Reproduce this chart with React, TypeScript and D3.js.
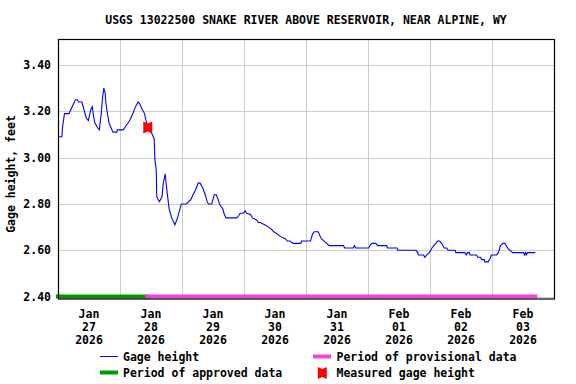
import React from "react";
import * as d3 from "d3";

const TITLE = "USGS 13022500 SNAKE RIVER ABOVE RESERVOIR, NEAR ALPINE, WY";
const Y_LABEL = "Gage height, feet";
const Y_TICKS = [2.4, 2.6, 2.8, 3.0, 3.2, 3.4];
const X_TICK_DAYS = ["2026-01-27", "2026-01-28", "2026-01-29", "2026-01-30", "2026-01-31", "2026-02-01", "2026-02-02", "2026-02-03"];
const X_TICK_LINES = [
  ["Jan", "27", "2026"], ["Jan", "28", "2026"], ["Jan", "29", "2026"], ["Jan", "30", "2026"],
  ["Jan", "31", "2026"], ["Feb", "01", "2026"], ["Feb", "02", "2026"], ["Feb", "03", "2026"],
];
const X_START = "2026-01-27T00:00";
const X_END = "2026-02-04T00:00";

const times: string[] = [
  "2026-01-27T00:00","2026-01-27T01:30","2026-01-27T01:45","2026-01-27T02:30","2026-01-27T04:15","2026-01-27T06:45","2026-01-27T07:30","2026-01-27T08:00","2026-01-27T09:15","2026-01-27T10:15","2026-01-27T11:00","2026-01-27T11:45","2026-01-27T12:45","2026-01-27T13:15","2026-01-27T13:45","2026-01-27T14:15","2026-01-27T15:15","2026-01-27T16:00","2026-01-27T16:45","2026-01-27T17:15","2026-01-27T17:45","2026-01-27T18:15","2026-01-27T18:30","2026-01-27T19:00","2026-01-27T19:45","2026-01-27T20:30","2026-01-27T21:15","2026-01-27T22:45","2026-01-27T23:00",
  "2026-01-28T01:15","2026-01-28T02:30","2026-01-28T03:45","2026-01-28T05:00","2026-01-28T06:00","2026-01-28T07:00","2026-01-28T07:45","2026-01-28T08:30","2026-01-28T09:30","2026-01-28T10:15","2026-01-28T11:30","2026-01-28T12:30","2026-01-28T13:15","2026-01-28T13:30","2026-01-28T14:00","2026-01-28T14:15","2026-01-28T15:15","2026-01-28T16:15","2026-01-28T16:45","2026-01-28T17:30","2026-01-28T17:45","2026-01-28T18:15","2026-01-28T19:00","2026-01-28T20:00","2026-01-28T21:15","2026-01-28T22:15","2026-01-28T23:15","2026-01-28T23:45",
  "2026-01-29T01:45","2026-01-29T02:30","2026-01-29T03:30","2026-01-29T04:15","2026-01-29T05:15","2026-01-29T06:15","2026-01-29T07:00","2026-01-29T08:00","2026-01-29T09:00","2026-01-29T09:45","2026-01-29T10:15","2026-01-29T11:30","2026-01-29T12:00","2026-01-29T12:30","2026-01-29T13:15","2026-01-29T14:00","2026-01-29T14:30","2026-01-29T15:00","2026-01-29T15:45","2026-01-29T16:15","2026-01-29T17:00","2026-01-29T21:15","2026-01-29T22:00","2026-01-29T22:30","2026-01-29T23:45",
  "2026-01-30T00:30","2026-01-30T01:00","2026-01-30T02:30","2026-01-30T03:15","2026-01-30T05:00","2026-01-30T05:30","2026-01-30T06:15","2026-01-30T08:00","2026-01-30T09:30","2026-01-30T10:45","2026-01-30T11:30","2026-01-30T13:00","2026-01-30T14:00","2026-01-30T16:00","2026-01-30T16:45","2026-01-30T17:45","2026-01-30T19:00","2026-01-30T22:00","2026-01-30T22:15",
  "2026-01-31T01:45","2026-01-31T02:30","2026-01-31T03:15","2026-01-31T04:45","2026-01-31T05:30","2026-01-31T06:00","2026-01-31T07:00","2026-01-31T08:00","2026-01-31T09:00","2026-01-31T14:30","2026-01-31T15:00","2026-01-31T18:15","2026-01-31T18:45","2026-01-31T19:15",
  "2026-02-01T00:15","2026-02-01T00:45","2026-02-01T01:30","2026-02-01T03:00","2026-02-01T03:45","2026-02-01T07:15","2026-02-01T07:30","2026-02-01T11:15","2026-02-01T11:30","2026-02-01T18:30","2026-02-01T19:15","2026-02-01T19:30","2026-02-01T21:30","2026-02-01T22:00","2026-02-01T22:45","2026-02-01T23:45",
  "2026-02-02T00:45","2026-02-02T01:30","2026-02-02T02:15","2026-02-02T03:00","2026-02-02T03:45","2026-02-02T04:30","2026-02-02T05:30","2026-02-02T06:30","2026-02-02T07:00","2026-02-02T09:45","2026-02-02T10:00","2026-02-02T13:30","2026-02-02T14:00","2026-02-02T14:30","2026-02-02T15:15","2026-02-02T15:30","2026-02-02T18:00","2026-02-02T18:30","2026-02-02T19:30","2026-02-02T20:00","2026-02-02T21:00","2026-02-02T21:15","2026-02-02T22:30","2026-02-02T23:15","2026-02-02T23:45",
  "2026-02-03T01:45","2026-02-03T02:30","2026-02-03T03:15","2026-02-03T04:15","2026-02-03T05:00","2026-02-03T06:00","2026-02-03T07:00","2026-02-03T08:00","2026-02-03T12:15","2026-02-03T12:30","2026-02-03T13:00","2026-02-03T13:15","2026-02-03T13:45","2026-02-03T16:45",
];

const heights: number[] = [
  3.09,3.09,3.13,3.19,3.19,3.25,3.25,3.24,3.24,3.20,3.17,3.16,3.21,3.22,3.18,3.15,3.13,3.12,3.19,3.26,3.30,3.28,3.24,3.20,3.15,3.13,3.11,3.11,3.12,
  3.12,3.14,3.16,3.19,3.22,3.24,3.23,3.21,3.19,3.15,3.12,3.10,3.08,2.99,2.95,2.83,2.81,2.83,2.89,2.93,2.90,2.85,2.78,2.74,2.71,2.74,2.78,2.80,
  2.80,2.81,2.82,2.84,2.86,2.89,2.89,2.87,2.84,2.81,2.80,2.80,2.82,2.84,2.84,2.82,2.80,2.79,2.78,2.76,2.74,2.74,2.75,2.76,2.76,
  2.77,2.76,2.755,2.74,2.73,2.72,2.72,2.71,2.70,2.69,2.68,2.67,2.66,2.65,2.64,2.64,2.63,2.63,2.64,
  2.64,2.67,2.68,2.68,2.66,2.65,2.64,2.63,2.62,2.62,2.61,2.61,2.62,2.61,
  2.61,2.62,2.63,2.63,2.62,2.62,2.61,2.61,2.60,2.60,2.59,2.58,2.58,2.57,2.58,2.59,
  2.61,2.62,2.63,2.64,2.64,2.63,2.61,2.61,2.60,2.60,2.59,2.59,2.58,2.59,2.59,2.58,2.58,2.57,2.57,2.56,2.56,2.55,2.55,2.565,2.58,
  2.58,2.59,2.62,2.63,2.63,2.61,2.60,2.59,2.59,2.58,2.59,2.58,2.59,2.59,
];

const approvedEnd = "2026-01-28T10:30";
const measuredTimes = ["2026-01-28T10:45"];
const measuredValues = [3.13];

const LEGEND_ITEMS = ["Gage height", "Period of approved data", "Period of provisional data", "Measured gage height"];

const FONT = "'DejaVu Sans Mono', monospace";
const BLUE = "#0000ff";
const GREEN = "#009900";
const PINK = "#ee44dd";
const RED = "#ff0000";

const parse = d3.timeParse("%Y-%m-%dT%H:%M");
const parseDay = d3.timeParse("%Y-%m-%d");

function markerPath(cx: number, cy: number) {
  const w = 4.5, h = 6, n = 2;
  return `M${cx - w},${cy - h} L${cx},${cy - h + n} L${cx + w},${cy - h} L${cx + w},${cy + h} L${cx},${cy + h - n} L${cx - w},${cy + h} Z`;
}

export default function App() {
  const W = 576, H = 384;
  const left = 58, right = 554, top = 39, bottom = 298.5;
  const x = d3.scaleTime().domain([parse(X_START)!, parse(X_END)!]).range([left, right]);
  const y = d3.scaleLinear().domain([2.392, 3.512]).range([bottom, top]);
  const data = times.map((t, i) => ({ t: parse(t)!, v: heights[i] }));
  const line = d3.line<{ t: Date; v: number }>().x(d => x(d.t)).y(d => y(d.v));
  const dayTicks = X_TICK_DAYS.map(d => parseDay(d)!);
  const gridDays = dayTicks.slice(1);
  const t0 = data[0].t, t1 = data[data.length - 1].t, tb = parse(approvedEnd)!;
  const barY = 296.5;
  const fs = 11.5;

  return (
    <svg width={W} height={H} style={{ position: "absolute", left: 0, top: 0 }}>
      <rect x={0} y={0} width={W} height={H} fill="#fff" />
      <text x={(left + right) / 2} y={24} textAnchor="middle" fontFamily={FONT} fontWeight="bold" fontSize={fs}>{TITLE}</text>
      {/* grid */}
      {Y_TICKS.map(v => (
        <line key={"gy" + v} x1={left} x2={right} y1={Math.round(y(v)) + 0.5} y2={Math.round(y(v)) + 0.5} stroke="#cccccc" strokeWidth={1} />
      ))}
      {gridDays.map((d, i) => (
        <line key={"gx" + i} x1={Math.round(x(d)) + 0.5} x2={Math.round(x(d)) + 0.5} y1={top} y2={bottom} stroke="#cccccc" strokeWidth={1} />
      ))}
      {/* series */}
      <path d={line(data) || ""} fill="none" stroke={BLUE} strokeWidth={1.1} />
      {/* periods */}
      <line x1={x(t0)} x2={x(tb)} y1={barY} y2={barY} stroke={GREEN} strokeWidth={4} strokeLinecap="square" />
      <line x1={x(tb)} x2={x(t1)} y1={barY} y2={barY} stroke={PINK} strokeWidth={4} strokeLinecap="square" />
      {/* measurements */}
      {measuredTimes.map((t, i) => (
        <path key={"m" + i} d={markerPath(x(parse(t)!), y(measuredValues[i]))} fill={RED} />
      ))}
      {/* frame */}
      <rect x={left + 0.5} y={top + 0.5} width={right - left} height={bottom - top} fill="none" stroke="#000" strokeWidth={1.2} />
      {/* y axis labels */}
      {Y_TICKS.map(v => (
        <text key={"yl" + v} x={51} y={y(v) + 4} textAnchor="end" fontFamily={FONT} fontWeight="bold" fontSize={fs}>{v.toFixed(2)}</text>
      ))}
      <text transform={`translate(15,${174}) rotate(-90)`} textAnchor="middle" fontFamily={FONT} fontWeight="bold" fontSize={fs}>{Y_LABEL}</text>
      {/* x axis labels */}
      {dayTicks.map((d, i) => {
        const cx = x(d3.timeHour.offset(d, 12));
        return (
          <text key={"xl" + i} textAnchor="middle" fontFamily={FONT} fontWeight="bold" fontSize={fs}>
            {X_TICK_LINES[i].map((s, j) => (
              <tspan key={j} x={cx} y={317.5 + j * 13}>{s}</tspan>
            ))}
          </text>
        );
      })}
      {/* legend */}
      <line x1={100} x2={118} y1={356.5} y2={356.5} stroke={BLUE} strokeWidth={1} />
      <text x={123} y={360.5} fontFamily={FONT} fontWeight="bold" fontSize={fs}>{LEGEND_ITEMS[0]}</text>
      <line x1={100} x2={118} y1={372.5} y2={372.5} stroke={GREEN} strokeWidth={4} />
      <text x={123} y={377} fontFamily={FONT} fontWeight="bold" fontSize={fs}>{LEGEND_ITEMS[1]}</text>
      <line x1={313} x2={331} y1={356.5} y2={356.5} stroke={PINK} strokeWidth={4} />
      <text x={336.5} y={360.5} fontFamily={FONT} fontWeight="bold" fontSize={fs}>{LEGEND_ITEMS[2]}</text>
      <path d={markerPath(322.3, 373)} fill={RED} />
      <text x={336.5} y={377} fontFamily={FONT} fontWeight="bold" fontSize={fs}>{LEGEND_ITEMS[3]}</text>
    </svg>
  );
}
